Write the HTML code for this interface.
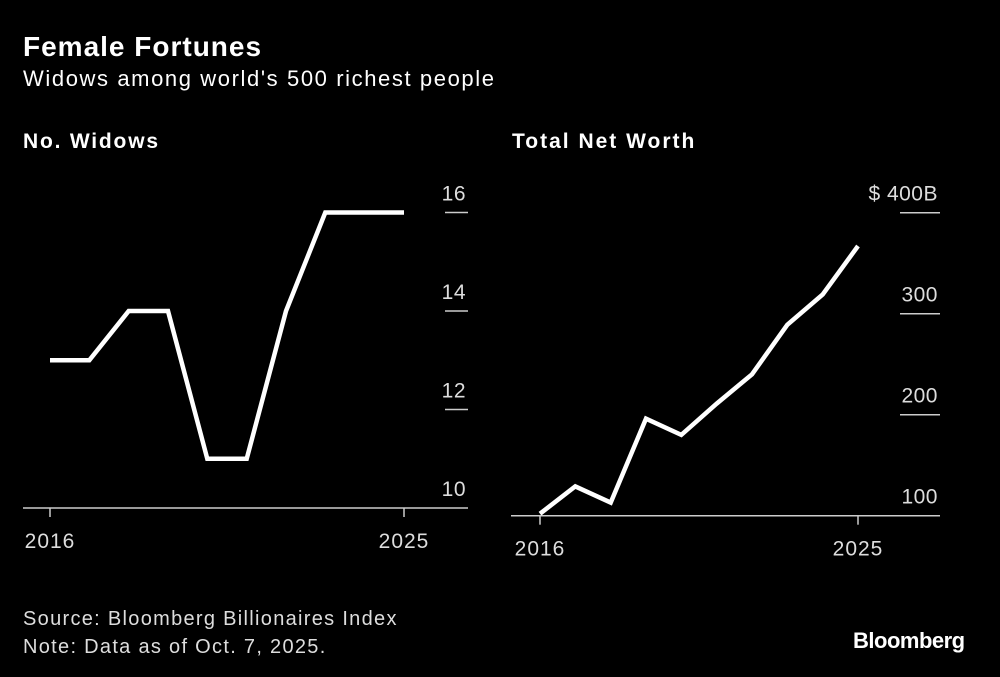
<!DOCTYPE html>
<html><head><meta charset="utf-8"><style>
html,body{margin:0;padding:0;background:#000;}
body{width:1000px;height:677px;overflow:hidden;font-family:"Liberation Sans",sans-serif;color:#fff;position:relative}
.t{position:absolute;white-space:nowrap}
</style></head><body>
<div class="t" style="left:23px;top:31px;font-size:28px;font-weight:bold;letter-spacing:1px">Female Fortunes</div>
<div class="t" style="left:23px;top:66px;font-size:22px;letter-spacing:1.6px">Widows among world's 500 richest people</div>
<div class="t" style="left:23px;top:130px;font-size:21px;font-weight:bold;letter-spacing:1.8px">No. Widows</div>
<div class="t" style="left:512px;top:130px;font-size:21px;font-weight:bold;letter-spacing:2px">Total Net Worth</div>
<svg id="svg" width="1000" height="677" style="position:absolute;left:0;top:0"></svg>
<div class="t" style="left:23px;top:608px;font-size:20px;letter-spacing:1.3px;color:#ddd">Source: Bloomberg Billionaires Index</div>
<div class="t" style="left:23px;top:636px;font-size:20px;letter-spacing:1.3px;color:#ddd">Note: Data as of Oct. 7, 2025.</div>
<div class="t" style="left:853px;top:628px;font-size:22px;font-weight:bold;letter-spacing:-0.5px">Bloomberg</div>
<script>
const years = [2016,2017,2018,2019,2020,2021,2022,2023,2024,2025];
const widows = [13,13,14,14,11,11,14,16,16,16];
const netWorth = [102,129,113,196,180,211,240,289,319,367];
const leftTicks = [10,12,14,16];
const rightTicks = [100,200,300,400];
const rightTickLabels = ["100","200","300","$ 400B"];
const xLabels = [2016,2025];

const svg = document.getElementById('svg');
const NS = 'http://www.w3.org/2000/svg';
function mk(tag, attrs){const e=document.createElementNS(NS,tag);for(const k in attrs)e.setAttribute(k,attrs[k]);svg.appendChild(e);return e;}

function panel(cfg, vals, ticks, tickLabels, name){
  const xs = y => cfg.x0 + (y - years[0])/(years[years.length-1]-years[0])*(cfg.x1-cfg.x0);
  const ys = v => cfg.yBase - (v - cfg.vMin)/(cfg.vMax - cfg.vMin)*(cfg.yBase - cfg.yTop);
  const axis = mk('line',{x1:cfg.ax0,x2:cfg.ax1,y1:cfg.yBase,y2:cfg.yBase,stroke:'#ccc','stroke-width':1.5});
  
  
  xLabels.forEach(yr=>{
    const tk = mk('line',{x1:xs(yr),x2:xs(yr),y1:cfg.yBase,y2:cfg.yBase+9,stroke:'#ccc','stroke-width':1.5});
    
    
    const tx = mk('text',{x:xs(yr),y:cfg.yBase+40,fill:'#ddd','font-size':21,'letter-spacing':1,'text-anchor':'middle','font-family':'Liberation Sans, sans-serif'});
    tx.textContent = yr;
    
    
  });
  ticks.forEach((t,i)=>{
    const y = ys(t);
    if (t !== cfg.vMin){
      const gl = mk('line',{x1:cfg.tx0,x2:cfg.ax1,y1:y,y2:y,stroke:'#ccc','stroke-width':1.5});
      
      
    }
    const tx = mk('text',{x:cfg.ax1-2,y:y-12,fill:'#ddd','font-size':21,'letter-spacing':0.5,'text-anchor':'end','font-family':'Liberation Sans, sans-serif'});
    tx.textContent = tickLabels[i];
    
    
  });
  const pts = vals.map((v,i)=>xs(years[i]).toFixed(1)+','+ys(v).toFixed(1)).join(' ');
  const pl = mk('polyline',{points:pts,fill:'none',stroke:'#fff','stroke-width':4.5,'stroke-linejoin':'miter'});
  
  
}
panel({x0:50,x1:404,ax0:23,ax1:468,tx0:445,yBase:508,yTop:212.5,vMin:10,vMax:16}, widows, leftTicks, leftTicks.map(String), 'widows');
panel({x0:540,x1:858,ax0:511,ax1:940,tx0:900,yBase:515.7,yTop:212.7,vMin:100,vMax:400}, netWorth, rightTicks, rightTickLabels, 'net-worth');
</script>
</body></html>
